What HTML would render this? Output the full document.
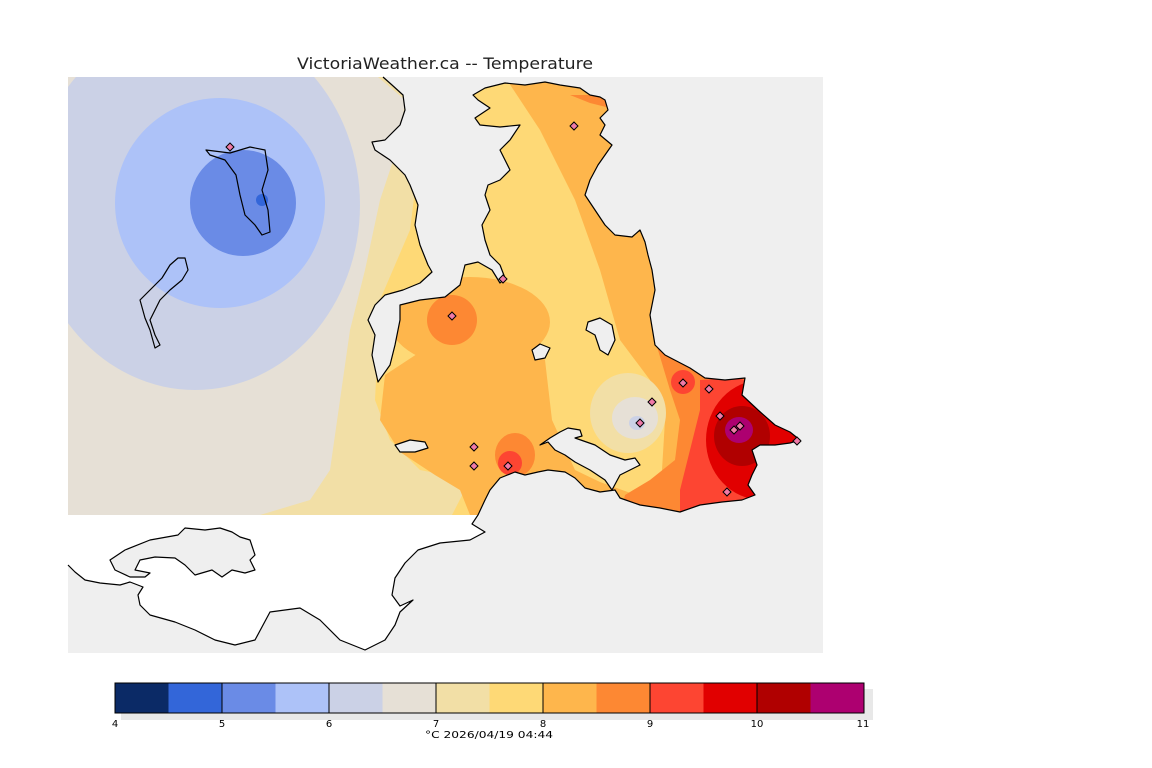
<!DOCTYPE html>
<html><head><meta charset="utf-8"><style>
body{margin:0;background:#fff;width:1152px;height:768px;overflow:hidden}
svg{display:block}
text{font-family:"DejaVu Sans","Liberation Sans",sans-serif}
</style></head><body>
<svg width="1152" height="768" viewBox="0 0 1152 768" xmlns="http://www.w3.org/2000/svg">
<defs><clipPath id="c"><rect x="68" y="77" width="755" height="438"/></clipPath></defs>
<rect x="68" y="77" width="755" height="576" fill="#efefef"/>
<g clip-path="url(#c)">
<rect x="68" y="77" width="755" height="438" fill="#e6e0d6"/>
<ellipse cx="195" cy="205" rx="165" ry="185" fill="#cbd1e6"/>
<circle cx="220" cy="203" r="105" fill="#adc2f8"/>
<circle cx="243" cy="203" r="53" fill="#6a8be6"/>
<circle cx="262" cy="200" r="6" fill="#3366d9"/>
<polygon points="378,77 823,77 823,515 260,515 310,500 330,470 340,400 350,330 365,270 380,200 400,140 405,100" fill="#f2dfa6"/>
<polygon points="405,77 823,77 823,515 452,515 470,480 420,470 390,440 375,400 380,300 410,230 420,150" fill="#fed976"/>
<ellipse cx="470" cy="322" rx="80" ry="45" fill="#feb64c"/>
<polygon points="385,375 420,352 470,342 520,332 545,360 552,420 575,470 600,482 650,500 700,515 470,515 460,490 435,475 400,452 380,420" fill="#feb64c"/>
<polygon points="505,77 823,77 823,515 700,515 662,470 665,420 650,380 620,340 600,270 575,200 540,130" fill="#feb64c"/>
<ellipse cx="628" cy="413" rx="38" ry="40" fill="#f2dfa6"/>
<ellipse cx="635" cy="418" rx="23" ry="21" fill="#e6e0d6"/>
<ellipse cx="637" cy="423" rx="8" ry="7" fill="#cbd1e6"/>
<polygon points="655,340 823,340 823,515 620,515 625,495 650,480 675,460 680,420 670,390" fill="#fd8833"/>
<polygon points="570,95 610,95 610,108 590,103" fill="#fd8833"/>
<circle cx="452" cy="320" r="25" fill="#fd8833"/>
<ellipse cx="515" cy="455" rx="20" ry="22" fill="#fd8833"/>
<circle cx="510" cy="463" r="12" fill="#fd4532"/>
<polygon points="700,380 740,378 823,420 823,515 680,515 680,490 690,450 700,410" fill="#fd4532"/>
<circle cx="683" cy="382" r="12" fill="#fd4532"/>
<ellipse cx="762" cy="440" rx="56" ry="60" fill="#e10000"/>
<ellipse cx="742" cy="436" rx="28" ry="30" fill="#b00000"/>
<ellipse cx="739" cy="430" rx="14" ry="13" fill="#ad0070"/>
</g>
<g fill="#efefef" stroke="none">
<polygon points="383,77 392,85 403,95 405,110 400,125 385,140 372,142 375,150 390,160 405,175 410,185 418,205 415,225 420,245 428,265 432,272 420,283 403,290 385,295 375,305 368,320 375,335 372,355 378,382 390,365 395,345 400,320 400,305 420,300 445,297 460,285 465,265 478,262 492,270 500,283 505,278 500,265 490,255 485,240 482,225 490,210 485,195 488,185 500,180 510,170 505,160 500,150 510,140 520,125 500,127 480,125 475,118 490,108 478,100 473,95 485,88 505,83 525,85 545,82 560,85 580,88 590,95 600,97 605,100 605,77"/>
<polygon points="605,100 608,110 600,118 605,125 600,135 612,145 598,165 590,180 585,195 595,210 605,225 615,235 632,237 640,230 645,242 648,255 652,270 655,290 650,315 655,345 665,355 690,368 705,378 725,380 745,378 742,395 758,410 775,425 790,432 800,440 790,443 775,445 760,445 752,450 757,465 752,475 748,485 755,495 742,500 722,502 700,505 680,512 660,508 640,505 620,498 615,490 600,492 585,488 575,478 565,472 548,470 538,472 525,475 515,472 500,478 490,490 485,500 478,515 823,515 823,77 605,77"/>
<polygon fill="#fff" points="68,515 480,515 472,524 485,532 470,540 440,543 418,550 405,563 395,578 392,595 400,606 413,600 400,612 395,625 385,640 365,650 340,640 320,620 300,608 270,612 255,640 235,645 215,640 195,630 175,622 150,615 140,605 138,595 143,587 130,582 120,585 100,583 85,580 75,572 68,565"/>
</g>
<g stroke="#000" stroke-width="1.2" stroke-linejoin="round" fill="none">
<polyline points="383,77 392,85 403,95 405,110 400,125 385,140 372,142 375,150 390,160 405,175 410,185 418,205 415,225 420,245 428,265 432,272 420,283 403,290 385,295 375,305 368,320 375,335 372,355 378,382 390,365 395,345 400,320 400,305 420,300 445,297 460,285 465,265 478,262 492,270 500,283 505,278 500,265 490,255 485,240 482,225 490,210 485,195 488,185 500,180 510,170 505,160 500,150 510,140 520,125 500,127 480,125 475,118 490,108 478,100 473,95 485,88 505,83 525,85 545,82 560,85 580,88 590,95 600,97 605,100 608,110 600,118 605,125 600,135 612,145 598,165 590,180 585,195 595,210 605,225 615,235 632,237 640,230 645,242 648,255 652,270 655,290 650,315 655,345 665,355 690,368 705,378 725,380 745,378 742,395 758,410 775,425 790,432 800,440 790,443 775,445 760,445 752,450 757,465 752,475 748,485 755,495 742,500 722,502 700,505 680,512 660,508 640,505 620,498 615,490 600,492 585,488 575,478 565,472 548,470 538,472 525,475 515,472 500,478 490,490 485,500 478,515 472,524 485,532 470,540 440,543 418,550 405,563 395,578 392,595 400,606 413,600 400,612 395,625 385,640 365,650 340,640 320,620 300,608 270,612 255,640 235,645 215,640 195,630 175,622 150,615 140,605 138,595 143,587 130,582 120,585 100,583 85,580 75,572 68,565"/>
<polygon fill="#efefef" points="560,432 568,428 580,430 582,436 575,438 595,445 610,455 625,460 635,458 640,465 630,470 620,475 612,490 605,480 590,470 575,462 565,455 555,450 548,442 540,445 550,438"/>
<polygon fill="#efefef" points="588,322 600,318 612,325 615,340 608,355 600,350 595,335 586,330"/>
<polygon fill="#efefef" points="532,350 540,344 550,348 545,358 535,360"/>
<polygon fill="#efefef" points="395,445 410,440 425,442 428,448 415,452 400,452"/>
<polygon points="206,150 230,153 250,147 265,150 268,170 262,190 268,210 270,232 262,235 255,225 245,215 240,195 236,175 225,160 210,155"/>
<polygon points="185,258 188,270 182,280 170,290 160,300 155,310 150,320 155,335 160,345 155,348 150,330 145,318 140,300 150,290 162,278 170,265 178,258"/>
<polygon fill="#efefef" points="115,570 110,560 125,550 150,540 178,535 185,528 205,530 220,528 232,532 240,537 250,540 255,555 250,560 255,570 245,573 232,570 222,577 212,570 195,575 185,565 175,558 155,557 140,560 135,570 150,573 145,577 130,577"/>
</g>
<g fill="#f07aa8" stroke="#000" stroke-width="1">
<path d="M230 143l4 4-4 4-4-4z"/><path d="M574 122l4 4-4 4-4-4z"/><path d="M503 275l4 4-4 4-4-4z"/>
<path d="M452 312l4 4-4 4-4-4z"/><path d="M683 379l4 4-4 4-4-4z"/><path d="M709 385l4 4-4 4-4-4z"/>
<path d="M652 398l4 4-4 4-4-4z"/><path d="M640 419l4 4-4 4-4-4z"/><path d="M720 412l4 4-4 4-4-4z"/>
<path d="M734 426l4 4-4 4-4-4z"/><path d="M740 422l4 4-4 4-4-4z"/><path d="M727 488l4 4-4 4-4-4z"/>
<path d="M474 443l4 4-4 4-4-4z"/><path d="M474 462l4 4-4 4-4-4z"/><path d="M508 462l4 4-4 4-4-4z"/>
<path d="M797 437l4 4-4 4-4-4z"/>
</g>
<text x="297" y="69" font-size="16" textLength="296" lengthAdjust="spacingAndGlyphs" fill="#222">VictoriaWeather.ca -- Temperature</text>
<rect x="121" y="689" width="752" height="31" fill="#e8e8e8"/>
<g stroke="none">
<rect x="115" y="683" width="54" height="30" fill="#0b2a66"/>
<rect x="168.5" y="683" width="54" height="30" fill="#3366d9"/>
<rect x="222" y="683" width="54" height="30" fill="#6a8be6"/>
<rect x="275.5" y="683" width="54" height="30" fill="#adc2f8"/>
<rect x="329" y="683" width="54" height="30" fill="#cbd1e6"/>
<rect x="382.5" y="683" width="54" height="30" fill="#e6e0d6"/>
<rect x="436" y="683" width="54" height="30" fill="#f2dfa6"/>
<rect x="489.5" y="683" width="54" height="30" fill="#fed976"/>
<rect x="543" y="683" width="54" height="30" fill="#feb64c"/>
<rect x="596.5" y="683" width="54" height="30" fill="#fd8833"/>
<rect x="650" y="683" width="54" height="30" fill="#fd4532"/>
<rect x="703.5" y="683" width="54" height="30" fill="#e10000"/>
<rect x="757" y="683" width="54" height="30" fill="#b00000"/>
<rect x="810.5" y="683" width="53.5" height="30" fill="#ad0070"/>
</g>
<rect x="115" y="683" width="749" height="30" fill="none" stroke="#000" stroke-width="1"/>
<g stroke="#000" stroke-width="1">
<line x1="222" y1="683" x2="222" y2="713"/><line x1="329" y1="683" x2="329" y2="713"/><line x1="436" y1="683" x2="436" y2="713"/>
<line x1="543" y1="683" x2="543" y2="713"/><line x1="650" y1="683" x2="650" y2="713"/><line x1="757" y1="683" x2="757" y2="713"/>
</g>
<g font-size="10" text-anchor="middle" fill="#000">
<text x="115" y="727">4</text><text x="222" y="727">5</text><text x="329" y="727">6</text><text x="436" y="727">7</text>
<text x="543" y="727">8</text><text x="650" y="727">9</text><text x="757" y="727">10</text><text x="863" y="727">11</text>
</g>
<text x="425" y="738" font-size="10" textLength="128" lengthAdjust="spacingAndGlyphs" fill="#000">°C  2026/04/19 04:44</text>
</svg>
</body></html>
